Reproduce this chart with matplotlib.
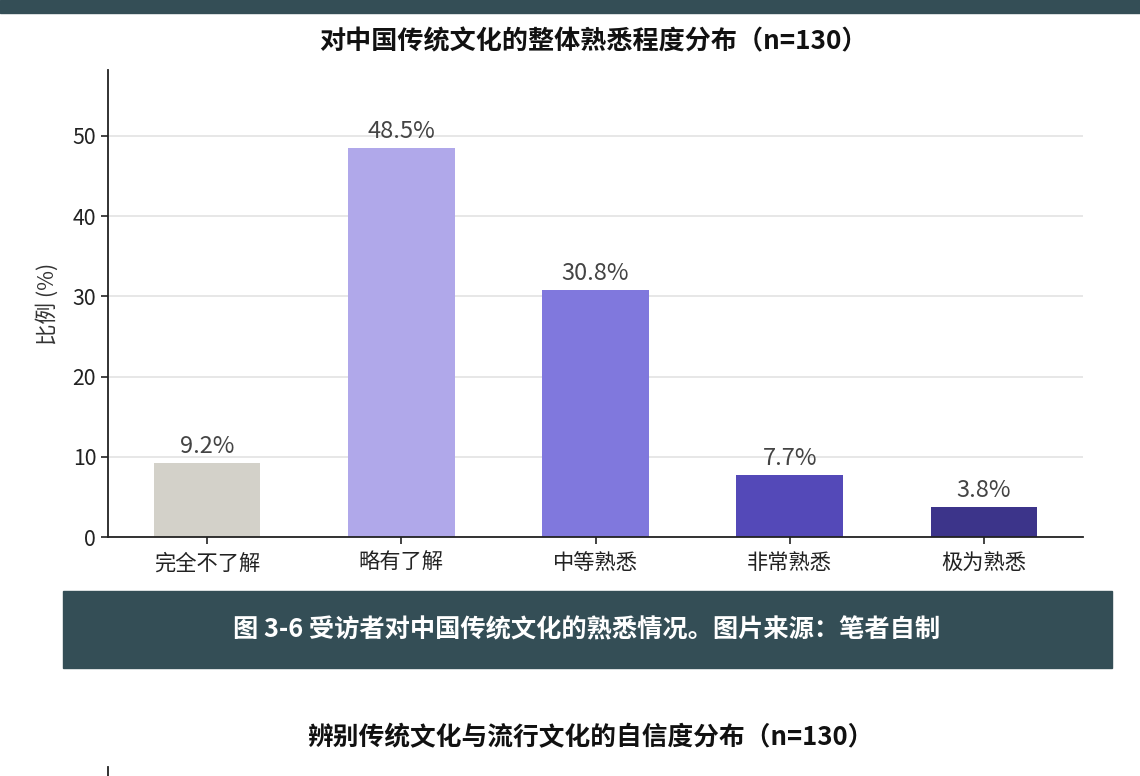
import matplotlib
matplotlib.use("Agg")
import matplotlib.pyplot as plt
from matplotlib.patches import Rectangle

plt.rcParams['font.family'] = ['Noto Sans CJK SC', 'DejaVu Sans']

# Dữ liệu
categories = ["完全不了解", "略有了解", "中等熟悉", "非常熟悉", "极为熟悉"]
percent = [9.2, 48.5, 30.8, 7.7, 3.8]
bar_colors = ["#d3d1c9", "#b0a8ea", "#8078dd", "#5449b8", "#3c348a"]
title1 = "对中国传统文化的整体熟悉程度分布（n=130）"
title2 = "辨别传统文化与流行文化的自信度分布（n=130）"
caption = "图 3-6 受访者对中国传统文化的熟悉情况。图片来源：笔者自制"
yticks = [0, 10, 20, 30, 40, 50]

W, H = 1140, 776
band = "#344e56"

fig = plt.figure(figsize=(W / 100, H / 100), dpi=100)
fig.patch.set_facecolor("white")

# Dải tối phía trên và khung chú thích
fig.add_artist(Rectangle((0, 1 - 13 / H), 1, 13 / H, transform=fig.transFigure,
                         color=band, zorder=0))
fig.add_artist(Rectangle((63 / W, 1 - 668 / H), (1112 - 63) / W, (668 - 591) / H,
                         transform=fig.transFigure, color=band, zorder=0))
fig.text(587 / W, 1 - 630 / H, caption, color="white", fontsize=18.2,
         fontweight="bold", ha="center", va="center")

# Biểu đồ chính
ax = fig.add_axes([108 / W, 1 - 537 / H, (1083 - 108) / W, (537 - 70) / H])
x = range(len(categories))
bars = ax.bar(x, percent, width=0.55, color=bar_colors, zorder=2)
for b, v in zip(bars, percent):
    ax.text(b.get_x() + b.get_width() / 2, v + 0.6, f"{v}%", ha="center",
            va="bottom", fontsize=17, color="#444444", zorder=3)

ax.set_xlim(-0.51, 4.51)
ax.set_ylim(0, 58.2)
ax.set_yticks(yticks)
ax.set_xticks(list(x))
ax.set_xticklabels(categories)
ax.tick_params(axis="both", labelsize=15.3, colors="#222222", length=5, width=1.2)
ax.tick_params(axis="x", pad=6)
ax.set_ylabel("比例 (%)", fontsize=15.5, color="#333333", labelpad=10)
ax.yaxis.grid(True, color="#e3e3e3", linewidth=1.2, zorder=0)
ax.set_axisbelow(True)
for s in ["top", "right"]:
    ax.spines[s].set_visible(False)
for s in ["left", "bottom"]:
    ax.spines[s].set_color("#222222")
    ax.spines[s].set_linewidth(1.3)

fig.text(593 / W, 1 - 42 / H, title1, fontsize=18.8, fontweight="bold",
         ha="center", va="center", color="#111111")

# Biểu đồ thứ hai (chỉ thấy phần đầu)
fig.text(590 / W, 1 - 738 / H, title2, fontsize=18.5, fontweight="bold",
         ha="center", va="center", color="#111111")
ax2 = fig.add_axes([108 / W, 0, 0.8, 9 / H])
ax2.set_xticks([])
ax2.set_yticks([])
for s in ["top", "right", "bottom"]:
    ax2.spines[s].set_visible(False)
ax2.spines["left"].set_color("#222222")
ax2.spines["left"].set_linewidth(1.3)
ax2.patch.set_alpha(0)

fig.savefig("out.png", dpi=100)
